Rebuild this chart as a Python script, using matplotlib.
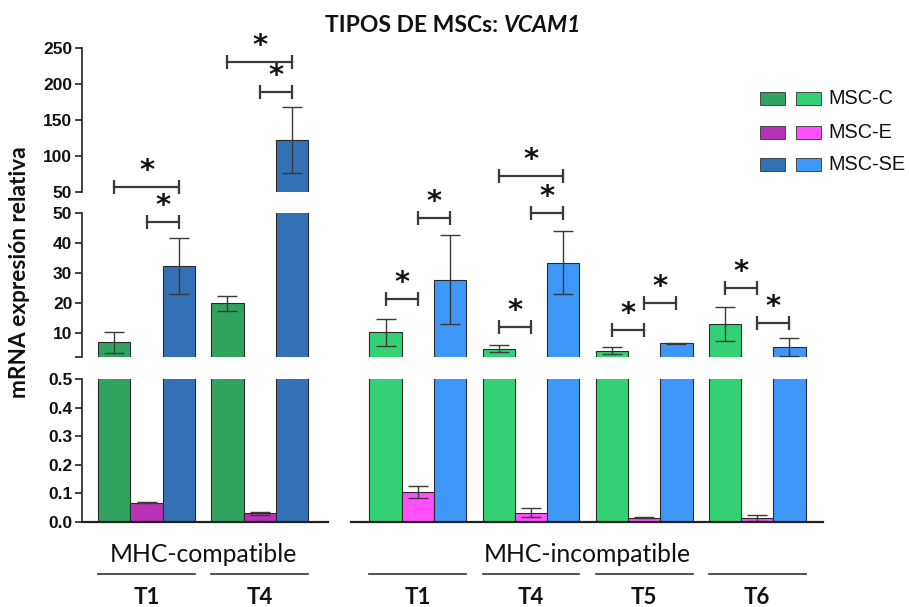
import matplotlib
matplotlib.use('Agg')
import matplotlib.pyplot as plt
from matplotlib.transforms import blended_transform_factory
from matplotlib.patches import Rectangle
import numpy as np

# ---------------- data ----------------
groups = ['T1', 'T4', 'T1', 'T4', 'T5', 'T6']
sections = ['MHC-compatible', 'MHC-incompatible']
group_section = [0, 0, 1, 1, 1, 1]
series = ['MSC-C', 'MSC-E', 'MSC-SE']

msc_c = [6.9, 19.9, 10.2, 4.8, 4.1, 13.0]
msc_c_err = [3.5, 2.6, 4.4, 1.2, 1.1, 5.6]
msc_e = [0.068, 0.030, 0.104, 0.033, 0.015, 0.015]
msc_e_err = [0.002, 0.004, 0.021, 0.016, 0.002, 0.011]
msc_se = [32.3, 121.8, 27.8, 33.4, 6.6, 5.4]
msc_se_err = [9.4, 46.0, 14.8, 10.5, 0.1, 3.0]

# significance brackets: group, from series, to series, axis segment, height
sig_group = [0, 0, 1, 1, 2, 2, 3, 3, 3, 4, 4, 5, 5]
sig_from = [0, 1, 0, 1, 0, 1, 0, 0, 1, 0, 1, 0, 1]
sig_to = [2, 2, 2, 2, 1, 2, 1, 2, 2, 1, 2, 1, 2]
sig_seg = ['top', 'mid', 'top', 'top', 'mid', 'mid', 'mid', 'mid', 'mid', 'mid', 'mid', 'mid', 'mid']
sig_y = [57.4, 47.1, 230.0, 189.3, 21.3, 48.4, 12.0, 62.3, 50.0, 11.1, 19.9, 25.1, 13.3]
sig_text = '*'

top_ticks = [50, 100, 150, 200, 250]
mid_ticks = [10, 20, 30, 40, 50]
bot_ticks = [0.0, 0.1, 0.2, 0.3, 0.4, 0.5]
bot_ticklabels = ['0.0', '0.1', '0.2', '0.3', '0.4', '0.5']

title_main = 'TIPOS DE MSCs: '
title_gene = 'VCAM1'
ylabel = 'mRNA expresión relativa'

# ---------------- style ----------------
dark_colors = ['#31A35F', '#B832B5', '#3371B4']
light_colors = ['#33D174', '#FF4FFF', '#3E97F9']
axis_col = '#333333'

W, H = 909, 607
def fx(px):
    return px / W
def fy(px):
    return 1 - px / H

fig = plt.figure(figsize=(W / 100, H / 100), dpi=100)

ax_l, ax_r = 82, 823
segs = {'top': (48, 192, (50, 250)),
        'mid': (213, 357, (2, 50)),
        'bot': (379, 522, (0, 0.5))}
axes = {}
for name, (ptop, pbot, ylim) in segs.items():
    ax = fig.add_axes([fx(ax_l), fy(pbot), (ax_r - ax_l) / W, (pbot - ptop) / H])
    ax.set_ylim(*ylim)
    axes[name] = ax

# group centers (bar width = 1 unit)
group_spacing = 3.5
section_start = [2.0, 10.4]
centers = []
counts = [0, 0]
for s in group_section:
    centers.append(section_start[s] + counts[s] * group_spacing)
    counts[s] += 1
centers = np.array(centers)

vals = [msc_c, msc_e, msc_se]
errs = [msc_c_err, msc_e_err, msc_se_err]

for name, ax in axes.items():
    ax.set_xlim(0, 22.94)
    for k in range(3):
        cols = [dark_colors[k] if s == 0 else light_colors[k] for s in group_section]
        ax.bar(centers + (k - 1), vals[k], width=1.0, color=cols,
               edgecolor='#2a2a2a', linewidth=0.8, zorder=2)
        ax.errorbar(centers + (k - 1), vals[k], yerr=errs[k], fmt='none',
                    ecolor='#3a3a3a', elinewidth=1.0, capsize=7, capthick=1.0, zorder=3)
    for sp in ['top', 'right', 'bottom']:
        ax.spines[sp].set_visible(False)
    ax.spines['left'].set_color(axis_col)
    ax.spines['left'].set_linewidth(1.3)
    ax.set_xticks([])
    ax.tick_params(axis='y', which='major', direction='out', length=5, width=1.3,
                   color=axis_col, pad=2)
    ax.tick_params(axis='y', which='minor', direction='in', length=5, width=1.3,
                   color=axis_col)

axes['top'].set_yticks(top_ticks)
axes['top'].set_yticklabels([str(t) for t in top_ticks])
axes['top'].set_yticks([50], minor=True)
axes['mid'].set_yticks([2] + mid_ticks)
axes['mid'].set_yticklabels([''] + [str(t) for t in mid_ticks])
axes['mid'].set_yticks([2, 50], minor=True)
axes['bot'].set_yticks(bot_ticks)
axes['bot'].set_yticklabels(bot_ticklabels)
axes['bot'].set_yticks([0.5], minor=True)
for ax in axes.values():
    for lab in ax.get_yticklabels():
        lab.set_fontfamily('Liberation Sans')
        lab.set_fontweight('bold')
        lab.set_fontsize(12.5)
        lab.set_color('#111111')

# baselines
axb = axes['bot']
axb.plot([0, centers[1] + 2.12], [0, 0], color='#222222', lw=1.6, clip_on=False, zorder=4)
axb.plot([centers[2] - 2.07, 22.94], [0, 0], color='#222222', lw=1.6, clip_on=False, zorder=4)

# significance brackets
for g, a, b, seg, yv in zip(sig_group, sig_from, sig_to, sig_seg, sig_y):
    ax = axes[seg]
    x1 = centers[g] + (a - 1)
    x2 = centers[g] + (b - 1)
    ax.plot([x1, x2], [yv, yv], color='#3a3a3a', lw=1.6, marker='|', ms=10,
            mew=1.6, clip_on=False, zorder=5)
    ax.annotate(sig_text, xy=((x1 + x2) / 2, yv), xytext=(0, 1.5),
                textcoords='offset points', ha='center', va='bottom',
                fontsize=21, fontweight='bold', family='DejaVu Sans',
                color='#111111', annotation_clip=False)

# x labels
tr = blended_transform_factory(axb.transData, fig.transFigure)
for s, name in enumerate(sections):
    cs = [c for c, gs in zip(centers, group_section) if gs == s]
    axb.text(np.mean(cs), fy(555), name, transform=tr, ha='center', va='center',
             fontsize=17.8, family='Lato', color='#111111')
for c, g in zip(centers, groups):
    axb.plot([c - 1.5, c + 1.5], [fy(574), fy(574)], transform=tr, color='#333333',
             lw=1.2, clip_on=False)
    axb.text(c, fy(598), g, transform=tr, ha='center', va='center', fontsize=16,
             family='Lato', fontweight='bold', color='#111111')

# y label
fig.text(fx(20), fy(272), ylabel, rotation=90, ha='center', va='center',
         fontsize=16.3, family='Lato', fontweight='bold', color='#111111')

# title
t1 = fig.text(fx(325), fy(32), title_main, ha='left', va='baseline', fontsize=16.5,
              family='Lato', fontweight='bold', color='#111111')
fig.add_artist(plt.Annotation(title_gene, xy=(1, 0), xycoords=t1, va='bottom', ha='left',
                              fontsize=16.5, family='Lato', fontweight='bold',
                              style='italic', color='#111111'))

# legend
rows = [98, 132, 164]
for k, name in enumerate(series):
    yc = rows[k]
    for x0, col in [(760, dark_colors[k]), (796, light_colors[k])]:
        fig.add_artist(Rectangle((fx(x0), fy(yc + 6.5)), 25 / W, 13 / H,
                                 transform=fig.transFigure, facecolor=col,
                                 edgecolor='#333333', lw=0.6))
    fig.text(fx(828), fy(yc), name, ha='left', va='center', fontsize=14.3,
             family='Liberation Sans', color='#111111')

fig.savefig('out.png', dpi=100)
